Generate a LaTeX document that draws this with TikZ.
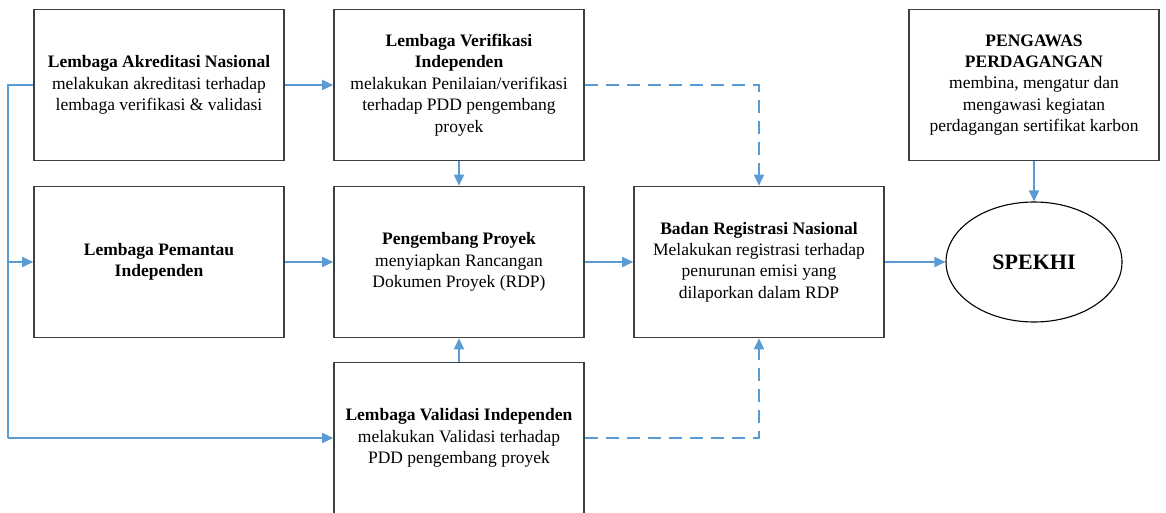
\documentclass[tikz,border=0pt]{standalone}
\usepackage{fontspec}
\setmainfont{LiberationSerif}[Extension=.ttf,UprightFont=*-Regular,BoldFont=*-Bold,ItalicFont=*-Italic,BoldItalicFont=*-BoldItalic]
\usetikzlibrary{arrows.meta,shapes.geometric}
\definecolor{arrowblue}{HTML}{5B9BD5}
\definecolor{boxgray}{HTML}{3F3F3F}
\tikzset{
  box/.style={draw=boxgray, line width=1.6pt, rectangle, minimum width=250pt, minimum height=151pt,
    align=center, inner sep=0pt, font=\fontsize{17.5}{21.4}\selectfont, fill=white},
  conn/.style={draw=arrowblue, line width=1.6pt, -{Triangle[length=11pt,width=10pt]}},
  plain/.style={draw=arrowblue, line width=1.6pt},
  dconn/.style={conn, dash pattern=on 13pt off 8pt},
}
\begin{document}
\begin{tikzpicture}[x=1pt,y=-1pt]
\useasboundingbox (0,0) rectangle (1166,513);
\clip (0,0) rectangle (1166,513);
\node[box] (akr) at (159,85) {\textbf{Lembaga Akreditasi Nasional}\\melakukan akreditasi terhadap\\lembaga verifikasi \& validasi};
\node[box] (ver) at (459,85) {\textbf{Lembaga Verifikasi}\\\textbf{Independen}\\melakukan Penilaian/verifikasi\\terhadap PDD pengembang\\proyek};
\node[box] (pem) at (159,262) {\textbf{Lembaga Pemantau}\\\textbf{Independen}};
\node[box] (pen) at (459,262) {\textbf{Pengembang Proyek}\\menyiapkan Rancangan\\Dokumen Proyek (RDP)};
\node[box] (reg) at (759,262) {\textbf{Badan Registrasi Nasional}\\Melakukan registrasi terhadap\\penurunan emisi yang\\dilaporkan dalam RDP};
\node[box] (pgw) at (1034,85) {\textbf{PENGAWAS}\\\textbf{PERDAGANGAN}\\membina, mengatur dan\\mengawasi kegiatan\\perdagangan sertifikat karbon};
\node[box] (val) at (459,438) {\textbf{Lembaga Validasi Independen}\\melakukan Validasi terhadap\\PDD pengembang proyek};
\node[draw=black, line width=1.1pt, ellipse, minimum width=176pt, minimum height=120pt, inner sep=0pt,
  font=\fontsize{22}{26}\selectfont\bfseries] (spk) at (1034,262) {SPEKHI};

\coordinate (l1) at (8,85);
\coordinate (l2) at (8,438);
\coordinate (l3) at (8,262);
\draw[plain] (akr.west) -- (l1) -- (l2);
\draw[conn] (l2) -- (val.west);
\draw[conn] (l3) -- (pem.west);
\draw[conn] (akr.east) -- (ver.west);
\coordinate (d1) at (reg.north |- ver.east);
\coordinate (d2) at (reg.south |- val.east);
\draw[dconn] (ver.east) -- (d1) -- (reg.north);
\draw[dconn] (val.east) -- (d2) -- (reg.south);
\draw[conn] (ver.south) -- (pen.north);
\draw[conn] (val.north) -- (pen.south);
\draw[conn] (pem.east) -- (pen.west);
\draw[conn] (pen.east) -- (reg.west);
\draw[conn] (reg.east) -- (spk.west);
\draw[conn] (pgw.south) -- (spk.north);
\end{tikzpicture}
\end{document}
